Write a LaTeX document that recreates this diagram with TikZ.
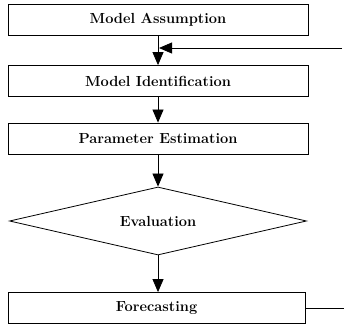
\documentclass[tikz,border=0pt]{standalone}
\usetikzlibrary{arrows.meta,shapes.geometric}
\begin{document}
\begin{tikzpicture}[x=1pt,y=1pt,
  box/.style={draw,line width=0.8pt,minimum height=31pt,inner sep=0pt,
    font=\fontsize{14.6}{17}\selectfont\bfseries},
  dia/.style={draw,diamond,line width=0.8pt,aspect=4.37,minimum width=297pt,
    minimum height=68pt,inner sep=0pt,font=\fontsize{14.6}{17}\selectfont\bfseries},
  arr/.style={line width=0.8pt,-{Triangle[length=13pt,width=11pt]}},
  ln/.style={line width=0.8pt}]
\useasboundingbox (0,0) rectangle (344,329);
\node[box,minimum width=300pt] (b1) at (158,309.5) {Model Assumption};
\node[box,minimum width=300pt] (b2) at (158,248) {Model Identification};
\node[box,minimum width=300pt] (b3) at (158,190.5) {Parameter Estimation};
\node[dia] (d) at (158,108) {Evaluation};
\node[box,minimum width=297pt] (b5) at (156.5,21) {Forecasting};
\coordinate (fbtop) at (342,281);
\coordinate (fbbot) at (344,21);
\draw[arr] (b1.south) -- (b2.north);
\draw[arr] (b2.south) -- (b3.north);
\draw[arr] (b3.south) -- (d.north);
\draw[arr] (d.south) -- (d.south |- b5.north);
\draw[arr] (fbtop) -- ([xshift=1pt]fbtop -| b1.south);
\draw[ln] (b5.east) -- (fbbot);
\end{tikzpicture}
\end{document}
